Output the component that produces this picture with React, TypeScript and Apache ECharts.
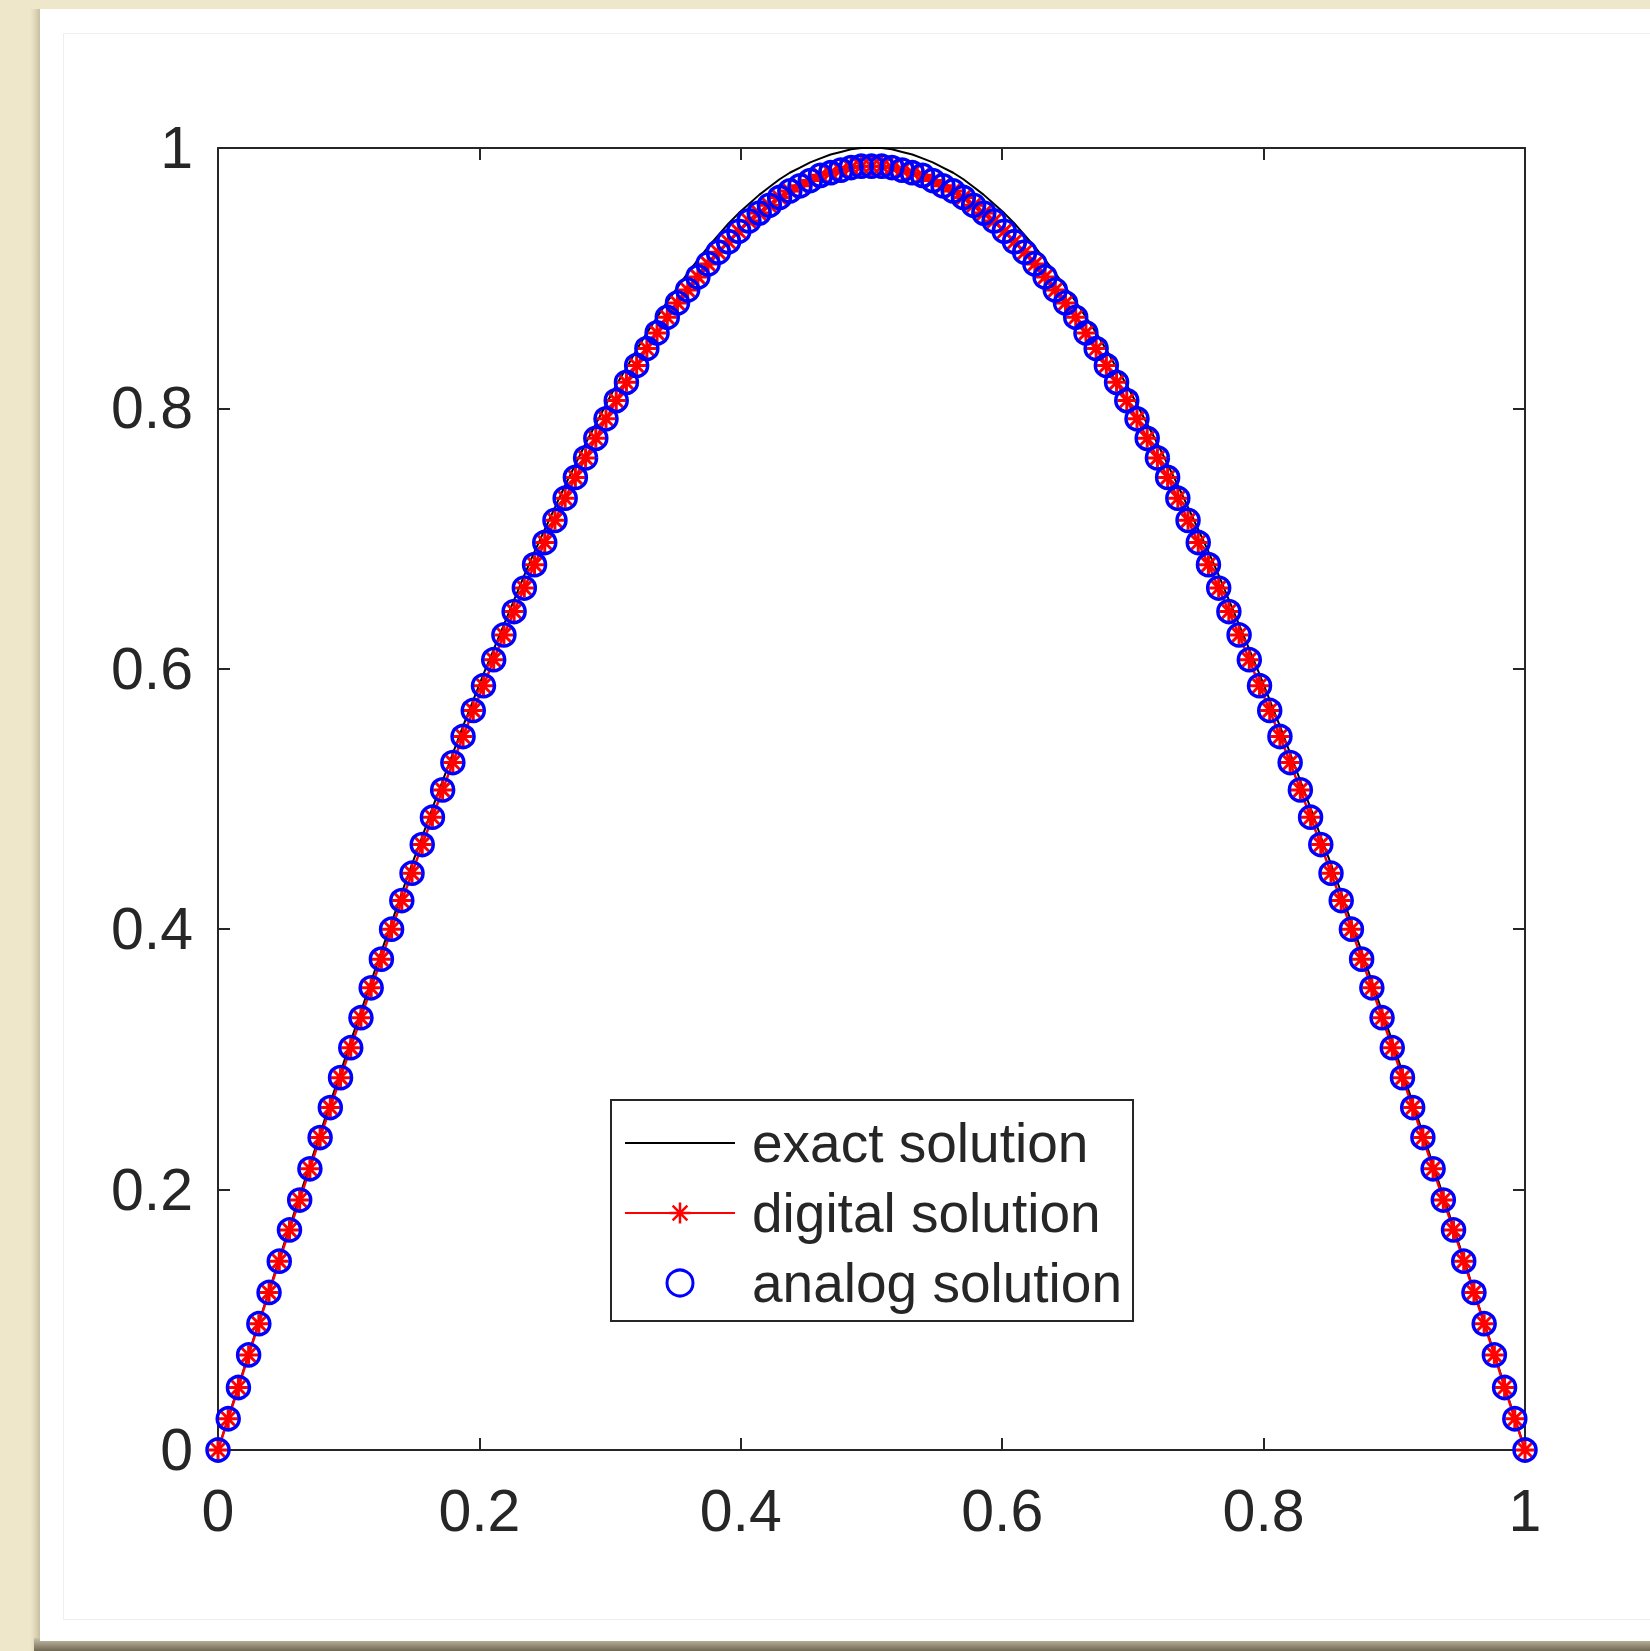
import React, { useEffect, useRef } from "react";
import * as echarts from "echarts";

// x grid: 129 equally spaced nodes on [0, 1]
const gridSteps = 128;

const exactValues = [
  0, 0.025, 0.049, 0.074, 0.098, 0.122, 0.147, 0.171, 0.195, 0.219, 0.243, 0.267, 0.29, 0.314, 0.337, 0.36,
  0.383, 0.405, 0.428, 0.45, 0.471, 0.493, 0.514, 0.535, 0.556, 0.576, 0.596, 0.615, 0.634, 0.653, 0.672, 0.69,
  0.707, 0.724, 0.741, 0.757, 0.773, 0.788, 0.803, 0.818, 0.831, 0.845, 0.858, 0.87, 0.882, 0.893, 0.904, 0.914,
  0.924, 0.933, 0.942, 0.95, 0.957, 0.964, 0.97, 0.976, 0.981, 0.985, 0.989, 0.992, 0.995, 0.997, 0.999, 1.0,
  1.0,
  1.0, 0.999, 0.997, 0.995, 0.992, 0.989, 0.985, 0.981, 0.976, 0.97, 0.964, 0.957, 0.95, 0.942, 0.933, 0.924,
  0.914, 0.904, 0.893, 0.882, 0.87, 0.858, 0.845, 0.831, 0.818, 0.803, 0.788, 0.773, 0.757, 0.741, 0.724, 0.707,
  0.69, 0.672, 0.653, 0.634, 0.615, 0.596, 0.576, 0.556, 0.535, 0.514, 0.493, 0.471, 0.45, 0.428, 0.405, 0.383,
  0.36, 0.337, 0.314, 0.29, 0.267, 0.243, 0.219, 0.195, 0.171, 0.147, 0.122, 0.098, 0.074, 0.049, 0.025, 0,
];

const digitalValues = [
  0, 0.024, 0.048, 0.073, 0.097, 0.121, 0.145, 0.169, 0.192, 0.216, 0.24, 0.263, 0.286, 0.309, 0.332, 0.355,
  0.377, 0.4, 0.422, 0.443, 0.465, 0.486, 0.507, 0.528, 0.548, 0.568, 0.587, 0.607, 0.626, 0.644, 0.662, 0.68,
  0.697, 0.714, 0.731, 0.747, 0.762, 0.777, 0.792, 0.806, 0.82, 0.833, 0.846, 0.858, 0.87, 0.881, 0.891, 0.901,
  0.911, 0.92, 0.928, 0.936, 0.944, 0.95, 0.956, 0.962, 0.967, 0.971, 0.975, 0.979, 0.981, 0.983, 0.985, 0.986,
  0.986,
  0.986, 0.985, 0.983, 0.981, 0.979, 0.975, 0.971, 0.967, 0.962, 0.956, 0.95, 0.944, 0.936, 0.928, 0.92, 0.911,
  0.901, 0.891, 0.881, 0.87, 0.858, 0.846, 0.833, 0.82, 0.806, 0.792, 0.777, 0.762, 0.747, 0.731, 0.714, 0.697,
  0.68, 0.662, 0.644, 0.626, 0.607, 0.587, 0.568, 0.548, 0.528, 0.507, 0.486, 0.465, 0.443, 0.422, 0.4, 0.377,
  0.355, 0.332, 0.309, 0.286, 0.263, 0.24, 0.216, 0.192, 0.169, 0.145, 0.121, 0.097, 0.073, 0.048, 0.024, 0,
];

const analogValues = [
  0, 0.024, 0.048, 0.073, 0.097, 0.121, 0.145, 0.169, 0.192, 0.216, 0.24, 0.263, 0.286, 0.309, 0.332, 0.355,
  0.377, 0.4, 0.422, 0.443, 0.465, 0.486, 0.507, 0.528, 0.548, 0.568, 0.587, 0.607, 0.626, 0.644, 0.662, 0.68,
  0.697, 0.714, 0.731, 0.747, 0.762, 0.777, 0.792, 0.806, 0.82, 0.833, 0.846, 0.858, 0.87, 0.881, 0.891, 0.901,
  0.911, 0.92, 0.928, 0.936, 0.944, 0.95, 0.956, 0.962, 0.967, 0.971, 0.975, 0.979, 0.981, 0.983, 0.985, 0.986,
  0.986,
  0.986, 0.985, 0.983, 0.981, 0.979, 0.975, 0.971, 0.967, 0.962, 0.956, 0.95, 0.944, 0.936, 0.928, 0.92, 0.911,
  0.901, 0.891, 0.881, 0.87, 0.858, 0.846, 0.833, 0.82, 0.806, 0.792, 0.777, 0.762, 0.747, 0.731, 0.714, 0.697,
  0.68, 0.662, 0.644, 0.626, 0.607, 0.587, 0.568, 0.548, 0.528, 0.507, 0.486, 0.465, 0.443, 0.422, 0.4, 0.377,
  0.355, 0.332, 0.309, 0.286, 0.263, 0.24, 0.216, 0.192, 0.169, 0.145, 0.121, 0.097, 0.073, 0.048, 0.024, 0,
];

const seriesNames = ["exact solution", "digital solution", "analog solution"];
const axisMin = 0;
const axisMax = 1;
const tickInterval = 0.2;

const FONT = "'Liberation Sans', Arial, Helvetica, sans-serif";
const AXIS_COLOR = "#262626";
const ASTERISK =
  "path://M10,0L10,20M0,10L20,10M2.93,2.93L17.07,17.07M2.93,17.07L17.07,2.93";

const toPairs = (vals: number[]) => vals.map((v, i) => [i / gridSteps, v]);

function axisCommon(showLabel: boolean, position: string) {
  return {
    type: "value",
    min: axisMin,
    max: axisMax,
    interval: tickInterval,
    position,
    axisLine: { show: true, onZero: false, lineStyle: { color: AXIS_COLOR, width: 2 } },
    axisTick: { show: true, inside: true, length: 12, lineStyle: { color: AXIS_COLOR, width: 2 } },
    splitLine: { show: false },
    axisLabel: showLabel
      ? { show: true, fontSize: 59, color: AXIS_COLOR, fontFamily: FONT }
      : { show: false },
  };
}

export default function App() {
  const ref = useRef<HTMLDivElement>(null);
  useEffect(() => {
    document.body.style.margin = "0";
    const chart = echarts.init(ref.current!, null, { renderer: "svg" });
    const xBottom: any = axisCommon(true, "bottom");
    xBottom.axisLabel.margin = 31;
    const yLeft: any = axisCommon(true, "left");
    yLeft.axisLabel.margin = 25;
    const option: any = {
      animation: false,
      textStyle: { fontFamily: FONT },
      graphic: {
        elements: [
          {
            type: "rect",
            z: -10,
            silent: true,
            shape: { x: 30, y: 9, width: 12, height: 1642 },
            style: {
              fill: new echarts.graphic.LinearGradient(0, 0, 1, 0, [
                { offset: 0, color: "rgba(200,190,160,0)" },
                { offset: 1, color: "rgba(170,160,130,0.75)" },
              ]),
            },
          },
          {
            type: "rect",
            z: -10,
            silent: true,
            shape: { x: 34, y: 1638, width: 1616, height: 13 },
            style: {
              fill: new echarts.graphic.LinearGradient(0, 0, 0, 1, [
                { offset: 0, color: "#c9c2aa" },
                { offset: 1, color: "#6f6752" },
              ]),
            },
          },
          {
            type: "rect",
            z: -9,
            silent: true,
            shape: { x: 40, y: 9, width: 1610, height: 1632 },
            style: { fill: "#ffffff" },
          },
          {
            type: "rect",
            z: -8,
            silent: true,
            shape: { x: 63.5, y: 33.5, width: 1600, height: 1586 },
            style: { fill: "none", stroke: "#eeeeee", lineWidth: 1 },
          },
        ],
      },
      grid: { left: 218, top: 148, width: 1307, height: 1302, outerBoundsMode: "none" },
      xAxis: [xBottom, axisCommon(false, "top")],
      yAxis: [yLeft, axisCommon(false, "right")],
      legend: {
        left: 611,
        top: 1100,
        orient: "vertical",
        selectedMode: false,
        padding: [15, 11, 10, 13],
        itemGap: 14,
        itemWidth: 110,
        itemHeight: 26,
        borderColor: AXIS_COLOR,
        borderWidth: 2,
        backgroundColor: "#ffffff",
        textStyle: {
          fontSize: 55,
          lineHeight: 56,
          color: AXIS_COLOR,
          fontFamily: FONT,
          padding: [0, 0, 0, 12],
        },
        data: [
          { name: seriesNames[0], itemStyle: { color: "rgba(0,0,0,0)", borderWidth: 0 } },
          { name: seriesNames[1], itemStyle: { borderWidth: 2.5 } },
          { name: seriesNames[2], itemStyle: { borderWidth: 3 } },
        ],
      },
      series: [
        {
          name: seriesNames[0],
          type: "line",
          data: toPairs(exactValues),
          symbol: "none",
          clip: false,
          z: 2,
          lineStyle: { color: "#000000", width: 2 },
          itemStyle: { color: "#000000" },
        },
        {
          name: seriesNames[1],
          type: "line",
          data: toPairs(digitalValues),
          symbol: ASTERISK,
          symbolSize: 19,
          showSymbol: true,
          clip: false,
          z: 3,
          lineStyle: { color: "#ff0000", width: 2.5 },
          itemStyle: { color: "#ff0000", borderColor: "#ff0000", borderWidth: 3 },
        },
        {
          name: seriesNames[2],
          type: "scatter",
          data: toPairs(analogValues),
          symbol: "circle",
          symbolSize: 22,
          clip: false,
          z: 4,
          itemStyle: { color: "rgba(0,0,0,0)", borderColor: "#0000ff", borderWidth: 3.5, opacity: 1 },
        },
      ],
    };
    chart.setOption(option);
    return () => chart.dispose();
  }, []);
  return <div ref={ref} style={{ width: 1650, height: 1651, background: "#efe7ca" }} />;
}
